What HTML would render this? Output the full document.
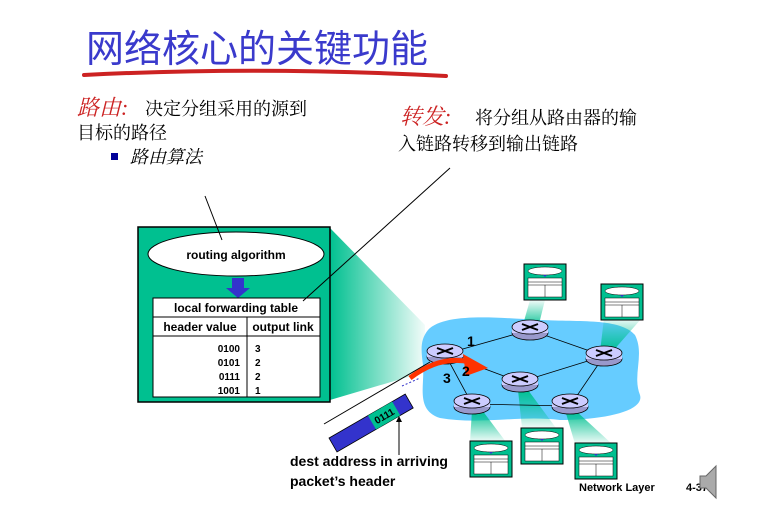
<!DOCTYPE html>
<html><head><meta charset="utf-8"><style>
html,body{margin:0;padding:0;background:#fff}
svg{display:block}
.cj{font-family:"Liberation Sans","Noto Sans CJK SC",sans-serif}
.cs{font-family:"Liberation Serif","Noto Serif CJK SC",serif}
.b{font-family:"Liberation Sans",sans-serif;font-weight:bold}
</style></head><body>
<svg width="765" height="528" viewBox="0 0 765 528" xmlns="http://www.w3.org/2000/svg">
<defs>
<linearGradient id="fan" x1="0" x2="1" y1="0" y2="0"><stop offset="0" stop-color="#00c090"/><stop offset="1" stop-color="#00c090" stop-opacity="0.05"/></linearGradient>
<linearGradient id="fv" x1="0" x2="0" y1="0" y2="1"><stop offset="0" stop-color="#00c090"/><stop offset="1" stop-color="#00c090" stop-opacity="0.05"/></linearGradient>
<linearGradient id="fvu" x1="0" x2="0" y1="1" y2="0"><stop offset="0" stop-color="#00c090"/><stop offset="1" stop-color="#00c090" stop-opacity="0.05"/></linearGradient>
<g id="rt"><ellipse cx="0" cy="3" rx="18" ry="7" fill="#9999cc" stroke="#000" stroke-width="0.8"/><rect x="-18" y="-3" width="36" height="6" fill="#ccccff"/><ellipse cx="0" cy="-3" rx="18" ry="7" fill="#ccccff" stroke="#000" stroke-width="0.8"/><path d="M-8,-6 L8,0 M-8,0 L8,-6" stroke="#000" stroke-width="2"/></g>
<g id="tb"><rect x="0" y="0" width="42" height="36" fill="#00c090" stroke="#000" stroke-width="1"/><ellipse cx="21" cy="7" rx="17" ry="4" fill="#fff" stroke="#000" stroke-width="0.5"/><rect x="4" y="14" width="34" height="19" fill="#fff" stroke="#000" stroke-width="0.5"/><path d="M4,18 H38 M4,21 H38 M21,21 V33" stroke="#000" stroke-width="0.5"/><path d="M19,11 h4 l-2,2z" fill="#33c"/></g>
</defs>
<text x="86" y="62" class="cj" font-size="38" fill="#3a3acc">网络核心的关键功能</text>
<path d="M84,75 Q260,66 446,76" stroke="#cc2222" stroke-width="4" fill="none" stroke-linecap="round"/>
<text x="77" y="115" class="cs" font-size="22" fill="#cc2222" font-style="italic">路由:</text>
<text x="145" y="115" class="cs" font-size="18">决定分组采用的源到</text>
<text x="77" y="139" class="cs" font-size="18">目标的路径</text>
<rect x="111" y="153" width="7" height="7" fill="#000099"/>
<text x="130" y="163" class="cs" font-size="18" font-style="italic">路由算法</text>
<text x="400" y="124" class="cs" font-size="22" fill="#cc2222" font-style="italic">转发:</text>
<text x="475" y="124" class="cs" font-size="18">将分组从路由器的输</text>
<text x="398" y="150" class="cs" font-size="18">入链路转移到输出链路</text>
<path d="M330,228 L425,325 L425,372 L330,400Z" fill="url(#fan)"/>
<rect x="138" y="227" width="192" height="175" fill="#00c090" stroke="#000" stroke-width="1.5"/>
<ellipse cx="236" cy="254" rx="88" ry="22" fill="#fff" stroke="#000"/>
<text x="236" y="259" class="b" font-size="12" text-anchor="middle">routing algorithm</text>
<path d="M232,278 h12 v10 h6 l-12,10 l-12,-10 h6z" fill="#3333cc"/>
<rect x="153" y="298" width="167" height="99" fill="#fff" stroke="#000"/>
<path d="M153,317 H320 M153,336 H320 M247,317 V397" stroke="#000"/>
<text x="236" y="312" class="b" font-size="12" text-anchor="middle">local forwarding table</text>
<text x="200" y="331" class="b" font-size="12" text-anchor="middle">header value</text>
<text x="283" y="331" class="b" font-size="12" text-anchor="middle">output link</text>
<g class="b" font-size="10"><text x="240" y="352" text-anchor="end">0100</text><text x="240" y="366" text-anchor="end">0101</text><text x="240" y="380" text-anchor="end">0111</text><text x="240" y="394" text-anchor="end">1001</text>
<text x="255" y="352">3</text><text x="255" y="366">2</text><text x="255" y="380">2</text><text x="255" y="394">1</text></g>
<path d="M205,196 L222,240 M450,168 L303,301" stroke="#000" stroke-width="1"/>
<path d="M428,330 C445,312 500,318 540,320 C580,322 620,318 635,335 C645,355 632,375 640,395 C645,412 600,420 560,420 C520,415 480,425 440,418 C415,410 425,385 423,365 C421,350 420,340 428,330Z" fill="#66ccff"/>
<path d="M530,300 L522,328 L538,328 L545,300Z" fill="url(#fvu)"/>
<path d="M604,318 L600,352 L612,352 L642,318Z" fill="url(#fvu)"/>
<path d="M472,410 L470,442 L506,442 L482,410Z" fill="url(#fv)"/>
<path d="M518,390 L522,428 L556,428 L528,390Z" fill="url(#fv)"/>
<path d="M565,410 L575,444 L612,444 L575,410Z" fill="url(#fv)"/>
<g stroke="#000" stroke-width="0.8" fill="none"><path d="M445,354 L530,330 L604,356 L520,382 L445,354 M445,354 L472,404 L570,406 L604,356"/></g>
<use href="#rt" x="445" y="354"/><use href="#rt" x="530" y="330"/><use href="#rt" x="604" y="356"/><use href="#rt" x="520" y="382"/><use href="#rt" x="472" y="404"/><use href="#rt" x="570" y="404"/>
<use href="#tb" x="524" y="264"/><use href="#tb" x="601" y="284"/><use href="#tb" x="470" y="441"/><use href="#tb" x="521" y="428"/><use href="#tb" x="575" y="443"/>
<path d="M410,378 Q440,355 470,362" stroke="#ff3300" stroke-width="5" fill="none"/>
<path d="M463,354 L488,368 L466,376Z" fill="#ff3300"/>
<g class="b" font-size="14"><text x="467" y="346">1</text><text x="462" y="376">2</text><text x="443" y="383">3</text></g>
<path d="M324,424 L430,362" stroke="#000"/>
<g transform="translate(333,445) rotate(-30)"><rect x="0" y="-8" width="88" height="16" fill="#3333cc" stroke="#000" stroke-width="0.8"/><rect x="45" y="-8" width="28" height="16" fill="#00c090"/><text x="59" y="4" class="b" font-size="10" text-anchor="middle">0111</text></g>
<path d="M402,386 L420,378" stroke="#33c" stroke-dasharray="2,2"/>
<path d="M399,455 L399,420" stroke="#000"/><path d="M396,422 L399,416 L402,422Z"/>
<text x="290" y="466" class="b" font-size="14">dest address in arriving</text>
<text x="290" y="486" class="b" font-size="14">packet’s header</text>
<text x="579" y="491" class="b" font-size="11">Network Layer</text>
<text x="686" y="491" class="b" font-size="11">4-37</text>
<path d="M700,476 h6 l10,-10 v32 l-10,-10 h-6z" fill="#aaa" stroke="#666"/>
</svg>
</body></html>
